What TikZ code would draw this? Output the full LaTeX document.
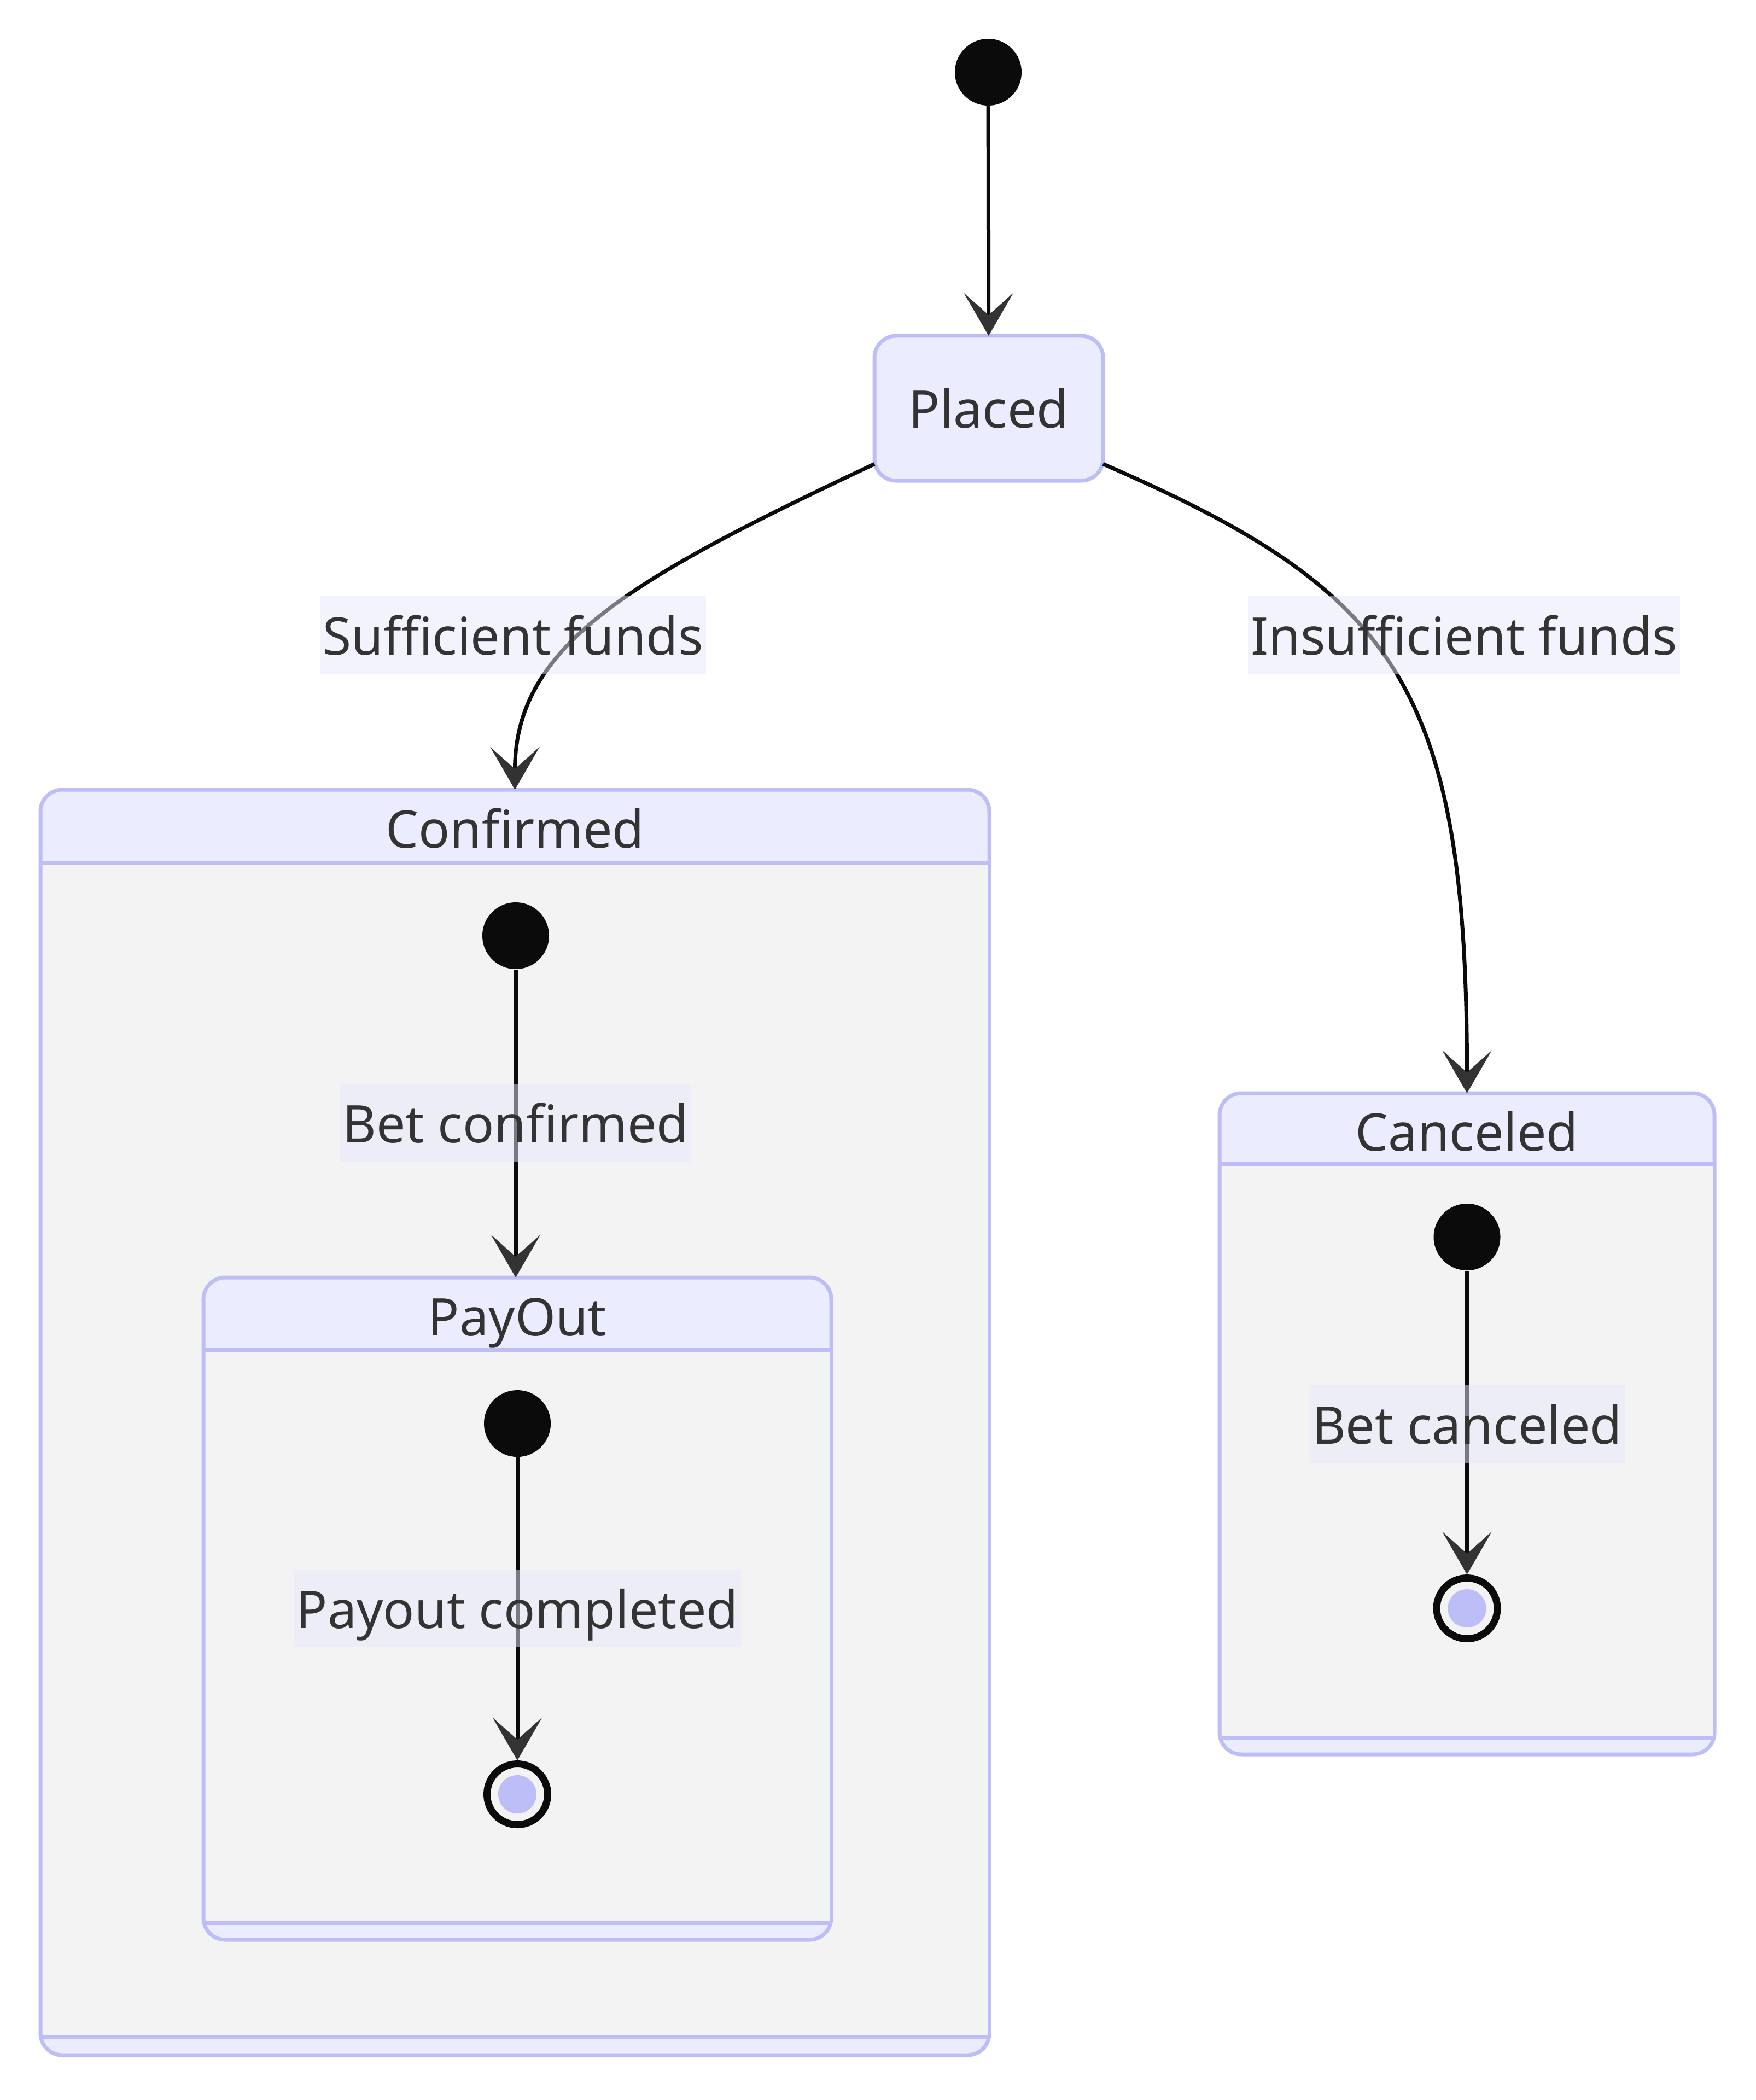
\documentclass[tikz,border=0pt]{standalone}
\usepackage{fontspec}
\setmainfont{Noto Sans}
\usetikzlibrary{positioning,calc}
\usetikzlibrary{arrows.meta}
\definecolor{StateFill}{RGB}{236,236,255}
\definecolor{StateLine}{RGB}{189,189,248}
\definecolor{BodyGray}{RGB}{243,243,243}
\definecolor{InkDark}{RGB}{51,51,51}
\definecolor{DotBlack}{RGB}{11,11,11}
\definecolor{LblFill}{RGB}{232,232,252}
\tikzset{
	txt/.style={font=\fontsize{27}{32}\selectfont,text=InkDark,text height=20.5pt,text depth=0pt},
	st/.style={txt,draw=StateLine,fill=StateFill,line width=0.07cm,rounded corners=0.4cm,
		outer sep=0pt,minimum width=4.18cm,minimum height=2.65cm},
	comp/.style={draw=StateLine,fill=StateFill,line width=0.07cm,rounded corners=0.4cm,
		outer sep=0pt,inner sep=0pt,anchor=north west},
	sep/.style={draw=StateLine,line width=0.07cm},
	startdot/.style={circle,fill=DotBlack,minimum size=1.22cm,inner sep=0pt},
	stopdot/.style={circle,draw=DotBlack,line width=0.13cm,fill=BodyGray,minimum size=1.11cm,inner sep=0pt,
		path picture={\fill[StateLine] (path picture bounding box.center) circle (0.35cm);}},
	go/.style={draw=DotBlack,line width=0.07cm,-{Stealth[length=0.78cm,width=0.9cm,inset=0.4cm,color=InkDark]}},
	lbl/.style={txt,fill=LblFill,fill opacity=0.5,text opacity=1,inner xsep=0.05cm,inner ysep=0pt,minimum height=1.42cm},
}
\begin{document}
\begin{tikzpicture}
	\useasboundingbox (0,0) rectangle (32.10,-38.40);
	% composite states
	\node[comp,minimum width=17.35cm,minimum height=23.14cm] (confirmed) at (0.74,-14.44) {};
	\fill[BodyGray] ($(confirmed.north west)+(0.035,-1.34)$) rectangle ($(confirmed.south east)+(-0.035,0.34)$);
	\draw[sep] ($(confirmed.north west)+(0,-1.34)$) -- ($(confirmed.north east)+(0,-1.34)$);
	\draw[sep] ($(confirmed.south west)+(0,0.34)$) -- ($(confirmed.south east)+(0,0.34)$);
	\node[txt] (confirmedT) at ($(confirmed.north)+(0,-0.70)$) {Confirmed};

	\node[comp,minimum width=11.48cm,minimum height=12.11cm] (payout) at (3.72,-23.36) {};
	\fill[BodyGray] ($(payout.north west)+(0.035,-1.32)$) rectangle ($(payout.south east)+(-0.035,0.31)$);
	\draw[sep] ($(payout.north west)+(0,-1.32)$) -- ($(payout.north east)+(0,-1.32)$);
	\draw[sep] ($(payout.south west)+(0,0.31)$) -- ($(payout.south east)+(0,0.31)$);
	\node[txt] (payoutT) at ($(payout.north)+(0,-0.70)$) {PayOut};

	\node[comp,minimum width=9.05cm,minimum height=12.09cm] (canceled) at (22.30,-19.99) {};
	\fill[BodyGray] ($(canceled.north west)+(0.035,-1.29)$) rectangle ($(canceled.south east)+(-0.035,0.30)$);
	\draw[sep] ($(canceled.north west)+(0,-1.29)$) -- ($(canceled.north east)+(0,-1.29)$);
	\draw[sep] ($(canceled.south west)+(0,0.30)$) -- ($(canceled.south east)+(0,0.30)$);
	\node[txt] (canceledT) at ($(canceled.north)+(0,-0.69)$) {Canceled};

	% simple states
	\node[startdot] (init) at (18.07,-1.32) {};
	\node[st] (placed) at (18.08,-7.465) {Placed};
	\node[startdot] (confInit) at (9.43,-17.11) {};
	\node[startdot] (payInit) at (9.46,-26.03) {};
	\node[stopdot] (payEnd) at (9.46,-32.81) {};
	\node[startdot] (cancInit) at (26.825,-22.62) {};
	\node[stopdot] (cancEnd) at (26.825,-29.41) {};

	% transitions
	\draw[go] (init) -- (placed);
	\draw[go] (placed.206) .. controls (11.50,-10.60) and (9.415,-11.80) .. (confirmed.north);
	\draw[go] (placed.-26) .. controls (25.50,-10.80) and (26.825,-12.50) .. (canceled.north);
	\draw[go] (confInit) -- (confInit |- payout.north);
	\draw[go] (payInit) -- (payEnd);
	\draw[go] (cancInit) -- (cancEnd);

	% transition labels
	\node[lbl] (lSuff) at (9.38,-11.61) {Sufficient funds};
	\node[lbl] (lInsuff) at (26.77,-11.61) {Insufficient funds};
	\node[lbl] (lBetConf) at (9.43,-20.53) {Bet confirmed};
	\node[lbl] (lPay) at (9.46,-29.41) {Payout completed};
	\node[lbl] (lBetCanc) at (26.825,-26.04) {Bet canceled};
\end{tikzpicture}
\end{document}
